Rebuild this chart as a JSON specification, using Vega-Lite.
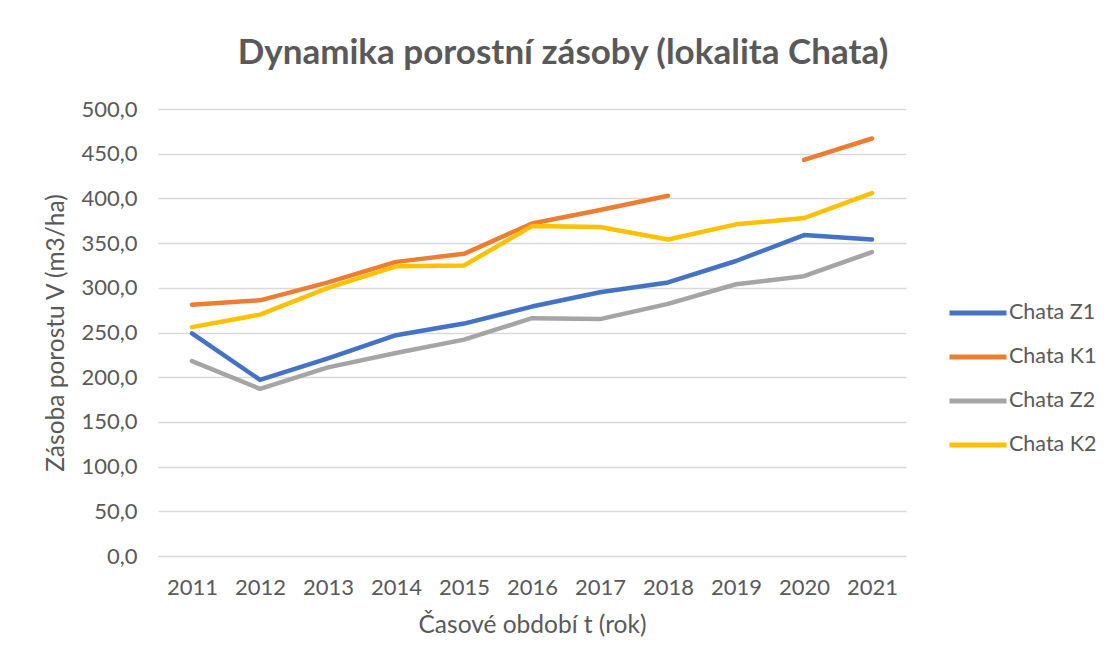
{
  "$schema": "https://vega.github.io/schema/vega-lite/v6.json",
  "width": 748,
  "height": 447,
  "autosize": {"type": "none"},
  "padding": {"left": 158, "top": 109, "right": 204, "bottom": 112},
  "background": "white",
  "title": {
    "text": "Dynamika porostní zásoby (lokalita Chata)",
    "font": "Lato",
    "fontSize": 35,
    "fontWeight": "bold",
    "color": "#595959",
    "anchor": "middle",
    "dx": 31,
    "offset": 27
  },
  "data": {
    "values": [
      {"rok": "2011", "serie": "Chata Z1", "v": 249},
      {"rok": "2012", "serie": "Chata Z1", "v": 197},
      {"rok": "2013", "serie": "Chata Z1", "v": 221},
      {"rok": "2014", "serie": "Chata Z1", "v": 247},
      {"rok": "2015", "serie": "Chata Z1", "v": 260},
      {"rok": "2016", "serie": "Chata Z1", "v": 279},
      {"rok": "2017", "serie": "Chata Z1", "v": 295},
      {"rok": "2018", "serie": "Chata Z1", "v": 306},
      {"rok": "2019", "serie": "Chata Z1", "v": 330},
      {"rok": "2020", "serie": "Chata Z1", "v": 359},
      {"rok": "2021", "serie": "Chata Z1", "v": 354},
      {"rok": "2011", "serie": "Chata K1", "v": 281},
      {"rok": "2012", "serie": "Chata K1", "v": 286},
      {"rok": "2013", "serie": "Chata K1", "v": 306},
      {"rok": "2014", "serie": "Chata K1", "v": 329},
      {"rok": "2015", "serie": "Chata K1", "v": 338},
      {"rok": "2016", "serie": "Chata K1", "v": 372},
      {"rok": "2017", "serie": "Chata K1", "v": 387},
      {"rok": "2018", "serie": "Chata K1", "v": 403},
      {"rok": "2019", "serie": "Chata K1", "v": null},
      {"rok": "2020", "serie": "Chata K1", "v": 443},
      {"rok": "2021", "serie": "Chata K1", "v": 467},
      {"rok": "2011", "serie": "Chata Z2", "v": 218},
      {"rok": "2012", "serie": "Chata Z2", "v": 187},
      {"rok": "2013", "serie": "Chata Z2", "v": 211},
      {"rok": "2014", "serie": "Chata Z2", "v": 227},
      {"rok": "2015", "serie": "Chata Z2", "v": 242},
      {"rok": "2016", "serie": "Chata Z2", "v": 266},
      {"rok": "2017", "serie": "Chata Z2", "v": 265},
      {"rok": "2018", "serie": "Chata Z2", "v": 282},
      {"rok": "2019", "serie": "Chata Z2", "v": 304},
      {"rok": "2020", "serie": "Chata Z2", "v": 313},
      {"rok": "2021", "serie": "Chata Z2", "v": 340},
      {"rok": "2011", "serie": "Chata K2", "v": 256},
      {"rok": "2012", "serie": "Chata K2", "v": 270},
      {"rok": "2013", "serie": "Chata K2", "v": 300},
      {"rok": "2014", "serie": "Chata K2", "v": 324},
      {"rok": "2015", "serie": "Chata K2", "v": 325},
      {"rok": "2016", "serie": "Chata K2", "v": 369},
      {"rok": "2017", "serie": "Chata K2", "v": 368},
      {"rok": "2018", "serie": "Chata K2", "v": 354},
      {"rok": "2019", "serie": "Chata K2", "v": 371},
      {"rok": "2020", "serie": "Chata K2", "v": 378},
      {"rok": "2021", "serie": "Chata K2", "v": 406}
    ]
  },
  "mark": {
    "type": "line",
    "strokeWidth": 4.5,
    "strokeCap": "round",
    "strokeJoin": "round",
    "invalid": "break-paths-show-domains"
  },
  "encoding": {
    "x": {
      "field": "rok",
      "type": "ordinal",
      "scale": {"type": "point", "padding": 0.5},
      "axis": {
        "title": "Časové období t (rok)",
        "labelAngle": 0,
        "labelFontSize": 22,
        "domain": false,
        "ticks": false,
        "tickSize": 0,
        "labelPadding": 21,
        "titlePadding": 15,
        "grid": false
      }
    },
    "y": {
      "field": "v",
      "type": "quantitative",
      "scale": {"domain": [0, 500], "nice": false, "zero": true},
      "axis": {
        "title": "Zásoba porostu V (m3/ha)",
        "values": [0, 50, 100, 150, 200, 250, 300, 350, 400, 450, 500],
        "labelExpr": "replace(format(datum.value, '.1f'), '.', ',')",
        "labelFontSize": 22,
        "domain": false,
        "ticks": false,
        "tickSize": 0,
        "labelPadding": 21,
        "titlePadding": 12,
        "grid": true,
        "gridColor": "#D9D9D9",
        "gridWidth": 1.3
      }
    },
    "color": {
      "field": "serie",
      "type": "nominal",
      "sort": ["Chata Z1", "Chata K1", "Chata Z2", "Chata K2"],
      "scale": {
        "domain": ["Chata Z1", "Chata K1", "Chata Z2", "Chata K2"],
        "range": ["#4472C4", "#ED7D31", "#A5A5A5", "#FFC000"]
      },
      "legend": {
        "title": null,
        "orient": "none",
        "legendX": 803,
        "legendY": 187,
        "symbolType": "M-2,0H2",
        "symbolSize": 812,
        "symbolStrokeWidth": 5,
        "labelOffset": 14,
        "rowPadding": 16,
        "labelFontSize": 21.5,
        "labelFont": "Lato",
        "labelColor": "#595959"
      }
    }
  },
  "config": {
    "view": {"stroke": null},
    "axis": {
      "labelFont": "Lato",
      "labelColor": "#595959",
      "titleFont": "Lato",
      "titleFontSize": 24.5,
      "titleFontWeight": "normal",
      "titleColor": "#595959"
    }
  }
}
